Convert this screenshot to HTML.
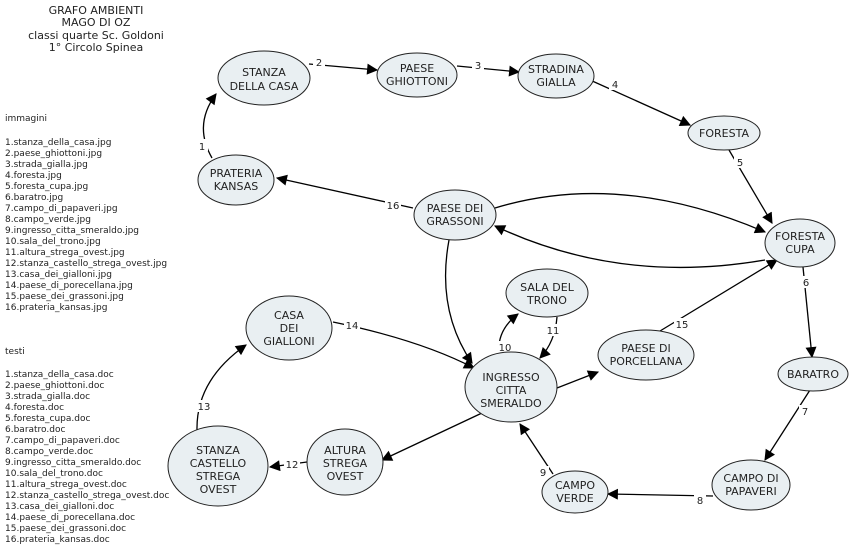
<!DOCTYPE html>
<html><head><meta charset="utf-8"><style>
body{margin:0;background:#fff;width:850px;height:548px;overflow:hidden;font-family:"DejaVu Sans","Liberation Sans",sans-serif;}
svg{position:absolute;left:0;top:0}
</style></head><body>
<svg width="850" height="548" viewBox="0 0 850 548" font-family="DejaVu Sans, Liberation Sans, sans-serif">
<defs><marker id="a" viewBox="0 0 10 10" refX="9" refY="5" markerWidth="12" markerHeight="11" markerUnits="userSpaceOnUse" orient="auto"><path d="M0,0L10,5L0,10z" fill="#000"/></marker></defs>
<g fill="#222" font-size="11" text-anchor="middle">
<text x="96" y="14">GRAFO AMBIENTI</text>
<text x="96" y="26">MAGO DI OZ</text>
<text x="96" y="39">classi quarte Sc. Goldoni</text>
<text x="96" y="51">1° Circolo Spinea</text>
</g>
<g fill="#222" font-size="9">
<text x="5" y="121">immagini</text>
<text x="5" y="145">1.stanza_della_casa.jpg</text>
<text x="5" y="156">2.paese_ghiottoni.jpg</text>
<text x="5" y="167">3.strada_gialla.jpg</text>
<text x="5" y="178">4.foresta.jpg</text>
<text x="5" y="189">5.foresta_cupa.jpg</text>
<text x="5" y="200">6.baratro.jpg</text>
<text x="5" y="211">7.campo_di_papaveri.jpg</text>
<text x="5" y="222">8.campo_verde.jpg</text>
<text x="5" y="233">9.ingresso_citta_smeraldo.jpg</text>
<text x="5" y="244">10.sala_del_trono.jpg</text>
<text x="5" y="255">11.altura_strega_ovest.jpg</text>
<text x="5" y="266">12.stanza_castello_strega_ovest.jpg</text>
<text x="5" y="277">13.casa_dei_gialloni.jpg</text>
<text x="5" y="288">14.paese_di_porecellana.jpg</text>
<text x="5" y="299">15.paese_dei_grassoni.jpg</text>
<text x="5" y="310">16.prateria_kansas.jpg</text>
<text x="5" y="354">testi</text>
<text x="5" y="377">1.stanza_della_casa.doc</text>
<text x="5" y="388">2.paese_ghiottoni.doc</text>
<text x="5" y="399">3.strada_gialla.doc</text>
<text x="5" y="410">4.foresta.doc</text>
<text x="5" y="421">5.foresta_cupa.doc</text>
<text x="5" y="432">6.baratro.doc</text>
<text x="5" y="443">7.campo_di_papaveri.doc</text>
<text x="5" y="454">8.campo_verde.doc</text>
<text x="5" y="465">9.ingresso_citta_smeraldo.doc</text>
<text x="5" y="476">10.sala_del_trono.doc</text>
<text x="5" y="487">11.altura_strega_ovest.doc</text>
<text x="5" y="498">12.stanza_castello_strega_ovest.doc</text>
<text x="5" y="509">13.casa_dei_gialloni.doc</text>
<text x="5" y="520">14.paese_di_porecellana.doc</text>
<text x="5" y="531">15.paese_dei_grassoni.doc</text>
<text x="5" y="542">16.prateria_kansas.doc</text>
</g>
<g fill="none" stroke="#000" stroke-width="1.3" marker-end="url(#a)">
<path d="M212,158 Q193,125 216,94"/>
<path d="M309,64 L377,70"/>
<path d="M457,66 L519,72"/>
<path d="M590,80 L690,125"/>
<path d="M729,150 L772,223"/>
<path d="M803,267 L812,357"/>
<path d="M810,390 L765,460"/>
<path d="M713,496 L608,494"/>
<path d="M553,474 L520,424"/>
<path d="M499,353 Q497,330 518,314"/>
<path d="M557,317 Q555,342 540,358"/>
<path d="M307,462 L270,467"/>
<path d="M197,430 Q196,380 246,345"/>
<path d="M333,322 Q420,340 474,368"/>
<path d="M660,331 L777,260"/>
<path d="M413,208 L277,178"/>
<path d="M495,208 Q620,170 765,232"/>
<path d="M765,260 Q620,285 495,226"/>
<path d="M449,240 Q436,310 472,363"/>
<path d="M557,388 L598,372"/>
<path d="M482,413 L382,460"/>
</g>
<g font-size="10" fill="#222" text-anchor="middle">
<g fill="#fff" stroke="none">
<rect x="196" y="139" width="12" height="12"/><rect x="313" y="56" width="12" height="12"/><rect x="472" y="60" width="12" height="12"/>
<rect x="609" y="78" width="12" height="12"/><rect x="734" y="156" width="12" height="12"/><rect x="800" y="276" width="12" height="12"/>
<rect x="799" y="405" width="12" height="12"/><rect x="694" y="494" width="12" height="12"/><rect x="537" y="466" width="12" height="12"/>
<rect x="497" y="341" width="16" height="12"/><rect x="545" y="324" width="16" height="12"/><rect x="284" y="458" width="16" height="12"/>
<rect x="196" y="400" width="16" height="12"/><rect x="344" y="319" width="16" height="12"/><rect x="674" y="318" width="16" height="12"/>
<rect x="385" y="199" width="16" height="12"/>
</g>
<text x="202" y="150">1</text><text x="319" y="66">2</text><text x="478" y="69">3</text>
<text x="615" y="88">4</text><text x="740" y="166">5</text><text x="806" y="286">6</text>
<text x="805" y="415">7</text><text x="700" y="504">8</text><text x="543" y="476">9</text>
<text x="505" y="351">10</text><text x="553" y="334">11</text><text x="292" y="468">12</text>
<text x="204" y="410">13</text><text x="352" y="329">14</text><text x="682" y="328">15</text>
<text x="393" y="209">16</text>
</g>
<g fill="#e9eff2" stroke="#222" stroke-width="1">
<ellipse cx="264" cy="78" rx="46" ry="27"/>
<ellipse cx="417" cy="75" rx="40" ry="22"/>
<ellipse cx="556" cy="76" rx="38" ry="22"/>
<ellipse cx="724" cy="133" rx="36" ry="17"/>
<ellipse cx="236" cy="180" rx="38" ry="25"/>
<ellipse cx="455" cy="215" rx="41" ry="25"/>
<ellipse cx="800" cy="243" rx="35" ry="24"/>
<ellipse cx="547" cy="293" rx="41" ry="24"/>
<ellipse cx="646" cy="355" rx="48" ry="25"/>
<ellipse cx="813" cy="374" rx="35" ry="17"/>
<ellipse cx="511" cy="387" rx="46" ry="35"/>
<ellipse cx="289" cy="328" rx="43" ry="32"/>
<ellipse cx="345" cy="462" rx="38" ry="33"/>
<ellipse cx="218" cy="466" rx="50" ry="40"/>
<ellipse cx="751" cy="485" rx="39" ry="25"/>
<ellipse cx="575" cy="492" rx="33" ry="21"/>
</g>
<g font-size="11" fill="#222" text-anchor="middle">
<text x="264" y="76">STANZA</text><text x="264" y="90">DELLA CASA</text>
<text x="417" y="72">PAESE</text><text x="417" y="85">GHIOTTONI</text>
<text x="556" y="73">STRADINA</text><text x="556" y="86">GIALLA</text>
<text x="724" y="137">FORESTA</text>
<text x="236" y="177">PRATERIA</text><text x="236" y="190">KANSAS</text>
<text x="455" y="212">PAESE DEI</text><text x="455" y="225">GRASSONI</text>
<text x="800" y="240">FORESTA</text><text x="800" y="253">CUPA</text>
<text x="547" y="291">SALA DEL</text><text x="547" y="304">TRONO</text>
<text x="646" y="352">PAESE DI</text><text x="646" y="365">PORCELLANA</text>
<text x="813" y="378">BARATRO</text>
<text x="511" y="381">INGRESSO</text><text x="511" y="394">CITTA</text><text x="511" y="407">SMERALDO</text>
<text x="289" y="319">CASA</text><text x="289" y="332">DEI</text><text x="289" y="345">GIALLONI</text>
<text x="345" y="454">ALTURA</text><text x="345" y="467">STREGA</text><text x="345" y="480">OVEST</text>
<text x="218" y="454">STANZA</text><text x="218" y="467">CASTELLO</text><text x="218" y="480">STREGA</text><text x="218" y="493">OVEST</text>
<text x="751" y="482">CAMPO DI</text><text x="751" y="495">PAPAVERI</text>
<text x="575" y="489">CAMPO</text><text x="575" y="502">VERDE</text>
</g>
</svg>
</body></html>
